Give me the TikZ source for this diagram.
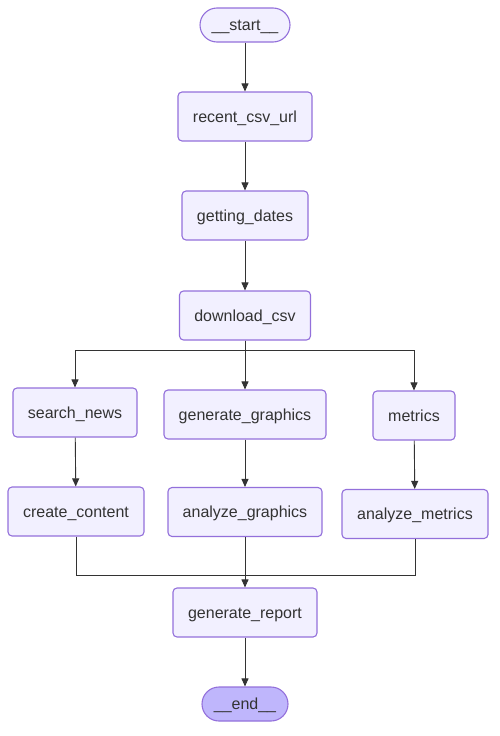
\documentclass[tikz,border=0pt]{standalone}
\usepackage{fontspec}
\setmainfont{Liberation Sans}
\usetikzlibrary{arrows.meta}
\definecolor{boxfill}{HTML}{F2F0FF}
\definecolor{boxline}{HTML}{9370DB}
\definecolor{endfill}{HTML}{BFB6FC}
\definecolor{ink}{HTML}{333333}
\tikzset{
  box/.style={draw=boxline, fill=boxfill, line width=1.1pt, rounded corners=4pt,
    minimum height=49pt, inner sep=0pt, text=ink, text height=14pt, text depth=3pt,
    font=\fontsize{16}{19}\selectfont},
  term/.style={box, minimum height=34pt, rounded corners=17pt},
  arr/.style={draw=ink, line width=0.9pt, -{Triangle[length=8pt,width=7pt]}},
  ln/.style={draw=ink, line width=0.9pt}
}
\begin{document}
\begin{tikzpicture}[x=1pt,y=-1pt]
\useasboundingbox (0,0) rectangle (499,736);
\node [term, minimum width=90pt] (start) at (245,25) {\_\_start\_\_};
\node [box, minimum width=134pt] (url) at (245,116.5) {recent\_csv\_url};
\node [box, minimum width=126pt] (dates) at (245,215.5) {getting\_dates};
\node [box, minimum width=131pt] (dl) at (245,315.5) {download\_csv};
\node [box, minimum width=124pt] (news) at (75,412.5) {search\_news};
\node [box, minimum width=162pt] (gg) at (245,414.5) {generate\_graphics};
\node [box, minimum width=82pt] (met) at (414,415.5) {metrics};
\node [box, minimum width=136pt] (cc) at (76,511.5) {create\_content};
\node [box, minimum width=154pt] (ag) at (245,512) {analyze\_graphics};
\node [box, minimum width=146pt] (am) at (415,514) {analyze\_metrics};
\node [box, minimum width=144pt] (rep) at (245,612.5) {generate\_report};
\node [term, minimum width=86pt, fill=endfill] (end) at (245,704) {\_\_end\_\_};
\coordinate (merge) at (245,575);
\draw [arr] (start) -- (url);
\draw [arr] (url) -- (dates);
\draw [arr] (dates) -- (dl);
\draw [arr] (dl.south) -- ++(0,10) -| (news.north);
\draw [arr] (dl.south) -- (gg.north);
\draw [arr] (dl.south) -- ++(0,10) -| (met.north);
\draw [arr] (news) -- (cc);
\draw [arr] (gg) -- (ag);
\draw [arr] (met) -- (am);
\draw [ln] (cc.south) |- (merge);
\draw [ln] (am.south) |- (merge);
\draw [arr] (ag.south) -- (rep.north);
\draw [arr] (rep) -- (end);
\end{tikzpicture}
\end{document}
